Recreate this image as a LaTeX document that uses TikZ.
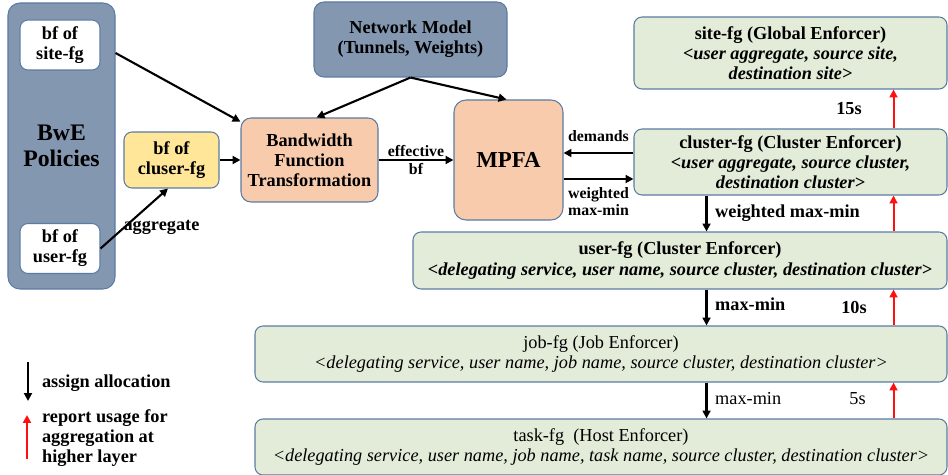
\documentclass[tikz,border=0pt]{standalone}
\usepackage{fontspec}
\setmainfont{Liberation Serif}
\definecolor{bweSlate}{HTML}{8497B0}
\definecolor{bweEdge}{HTML}{5B7BA3}
\definecolor{bweGreen}{HTML}{E2ECD9}
\definecolor{bwePeach}{HTML}{F8CBAD}
\definecolor{bweYellow}{HTML}{FFE699}
\definecolor{bweRed}{HTML}{FF1010}
\usetikzlibrary{arrows.meta, positioning, calc}

\begin{document}
\begin{tikzpicture}[
  font=\fontsize{10.4}{11.4}\selectfont\bfseries,
  box/.style={draw=bweEdge, line width=0.6pt, rounded corners=0.16cm,
    align=center, inner sep=0pt},
  policy/.style={box, fill=bweSlate, rounded corners=0.24cm},
  bfbox/.style={box, fill=white, minimum width=1.6cm, minimum height=1cm},
  stage/.style={box, fill=bwePeach, rounded corners=0.2cm},
  fgbox/.style={box, fill=bweGreen, minimum width=6.26cm},
  plain/.style={font=\fontsize{10.4}{11.4}\selectfont},
  alloc/.style={-{Triangle[length=4.5pt,width=4.5pt]}, line width=1.2pt},
  report/.style={alloc, bweRed, line width=1.1pt},
  lbl/.style={font=\fontsize{9}{9.7}\selectfont\bfseries, inner sep=1pt}]

\useasboundingbox (0,0) rectangle (18.96,-9.5);

% policies and the bandwidth functions they hold
\node[policy, minimum width=2.14cm, minimum height=5.72cm,
  font=\fontsize{13.5}{14.8}\selectfont\bfseries] (policies) at (1.23,-2.92) {BwE\\Policies};
\node[bfbox] (sitebf) at (1.2,-0.9) {bf of\\site-fg};
\node[bfbox] (userbf) at (1.2,-4.97) {bf of\\user-fg};
\node[box, fill=bweYellow, minimum width=1.9cm, minimum height=1.12cm] (clusterbf) at (3.43,-3.2) {bf of\\cluser-fg};

% central pipeline
\node[stage, minimum width=2.74cm, minimum height=1.68cm] (bft) at (6.19,-3.2) {Bandwidth\\Function\\Transformation};
\node[policy, rounded corners=0.2cm, minimum width=3.86cm, minimum height=1.5cm] (netmodel) at (8.21,-0.79) {Network Model\\(Tunnels, Weights)};
\node[stage, rounded corners=0.24cm, minimum width=2.18cm, minimum height=2.4cm,
  font=\fontsize{13}{15}\selectfont\bfseries] (mpfa) at (10.17,-3.2) {MPFA};

% enforcer hierarchy
\node[fgbox, minimum height=1.44cm] (sitefg) at (15.81,-1.06) {site-fg (Global Enforcer)\\
  \textit{<user aggregate, source site,}\\\textit{destination site>}};
\node[fgbox, minimum height=1.32cm] (clusterfg) at (15.81,-3.24) {cluster-fg (Cluster Enforcer)\\
  \textit{<user aggregate, source cluster,}\\\textit{destination cluster>}};
\node[fgbox, minimum width=10.68cm, minimum height=1.14cm] (userfg) at (13.6,-5.21) {user-fg (Cluster Enforcer)\\
  \textit{<delegating service, user name, source cluster, destination cluster>}};
\node[fgbox, plain, minimum width=13.84cm, minimum height=1.12cm] (jobfg) at (12.02,-7.08) {job-fg (Job Enforcer)\\
  \textit{<delegating service, user name, job name, source cluster, destination cluster>}};
\node[fgbox, plain, minimum width=13.84cm, minimum height=1.12cm] (taskfg) at (12.02,-8.94) {task-fg~~(Host Enforcer)\\
  \textit{<delegating service, user name, job name, task name, source cluster, destination cluster>}};

% bandwidth functions into the solver
\draw[alloc] ($(policies.east |- sitebf.east)+(0,-0.16)$) -- (bft.151);
\draw[alloc] (clusterbf.east) -- (bft.west);
\draw[alloc] (userbf.east) -- (clusterbf.263)
  node[pos=0.3, anchor=west, yshift=2pt, inner sep=1pt] {aggregate};
\draw[alloc] (netmodel.south) -- ([xshift=0.14cm]bft.north);
\draw[alloc] (netmodel.south) -- ([xshift=-0.04cm]mpfa.north);
\draw[alloc] (bft.east) -- (mpfa.west) node[lbl, midway, align=center] {effective\\bf};

\coordinate (dmd) at ([yshift=0.18cm]clusterfg.west);
\coordinate (wmm) at ([yshift=-0.34cm]clusterfg.west);
\draw[alloc] (dmd) -- (dmd -| mpfa.east) node[lbl, midway, above=5pt] {demands};
\draw[alloc] (wmm -| mpfa.east) -- (wmm) node[lbl, midway, below=3pt, align=left] {weighted\\max-min};

% allocation going down
\coordinate (d1) at ([xshift=-4.82cm]clusterfg.south east);
\coordinate (d2) at ([xshift=-4.82cm]userfg.south east);
\coordinate (d3) at ([xshift=-4.82cm]jobfg.south east);
\draw[alloc] (d1) -- (d1 |- userfg.north) node[midway, right=1pt] {weighted max-min};
\draw[alloc] (d2) -- (d2 |- jobfg.north) node[midway, right=1pt, yshift=2pt] {max-min};
\draw[alloc] (d3) -- (d3 |- taskfg.north) node[plain, midway, right=1pt, yshift=1pt] {max-min};

% usage reports going up
\coordinate (u1) at ([xshift=-1.08cm]taskfg.north east);
\coordinate (u2) at ([xshift=-1.08cm]jobfg.north east);
\coordinate (u3) at ([xshift=-1.08cm]userfg.north east);
\coordinate (u4) at ([xshift=-1.08cm]clusterfg.north east);
\draw[report] (u1) -- (u1 |- jobfg.south) node[plain, black, midway, left=0.42cm, yshift=1pt] {5s};
\draw[report] (u2) -- (u2 |- userfg.south) node[black, midway, left=0.4cm] {10s};
\draw[report] (u3) -- (u3 |- clusterfg.south);
\draw[report] (u4) -- (u4 |- sitefg.south) node[black, midway, left=0.5cm] {15s};

% legend
\coordinate (lgA) at (0.56,-7.24);
\coordinate (lgB) at (0.56,-8.02);
\coordinate (lgC) at (0.54,-9.18);
\coordinate (lgD) at (0.54,-8.3);
\draw[alloc] (lgA) -- (lgB);
\draw[report] (lgC) -- (lgD);
\node[anchor=west, inner sep=1pt] (lgalloc) at (0.8,-7.66) {assign allocation};
\node[anchor=west, inner sep=1pt, align=left] (lgreport) at (0.8,-8.76) {report usage for\\aggregation at\\higher layer};
\end{tikzpicture}
\end{document}
